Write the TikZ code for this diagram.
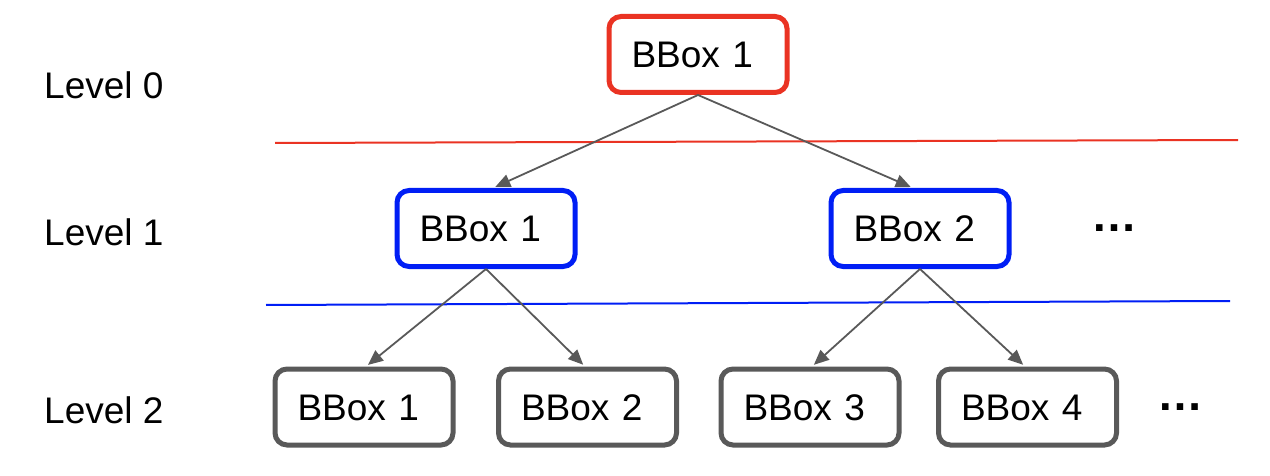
\documentclass[tikz,border=0pt]{standalone}
\usepackage{fontspec}
\setmainfont{Liberation Sans}
\usetikzlibrary{arrows.meta}
\definecolor{bred}{RGB}{234,51,35}
\definecolor{bblue}{RGB}{0,30,245}
\definecolor{bgray}{RGB}{89,89,89}
\tikzset{
  bbox/.style={draw, line width=5pt, rounded corners=12pt, fill=white,
    minimum width=178pt, minimum height=76pt, text width=133pt, align=left,
    inner xsep=22.5pt, inner ysep=0pt, text height=26.5pt, text depth=0pt,
    font=\fontsize{37}{41}\selectfont},
  redbox/.style={bbox, draw=bred},
  bluebox/.style={bbox, draw=bblue},
  graybox/.style={bbox, draw=bgray},
  conn/.style={draw=bgray, line width=1.8pt, shorten >=2.5pt,
    -{Triangle[length=15pt,width=13pt]}, fill=bgray},
  lvl/.style={anchor=base west, inner sep=0pt, font=\fontsize{37}{41}\selectfont},
  dots/.style={anchor=base west, inner sep=0pt, font=\fontsize{46}{50}\selectfont\bfseries},
  sep/.style={line width=2pt}
}
\begin{document}
\begin{tikzpicture}[x=1pt,y=-1pt]
\useasboundingbox (0,0) rectangle (1270,476);
% separator lines
\coordinate (r0) at (275,143);
\coordinate (r1) at (1238,140);
\coordinate (b0) at (266,305);
\coordinate (b1) at (1230,301);
\draw[sep, bred] (r0) -- (r1);
\draw[sep, bblue] (b0) -- (b1);
% level labels
\node[lvl] (l0) at (44,99) {Level 0};
\node[lvl] (l1) at (44,245) {Level 1};
\node[lvl] (l2) at (44,423) {Level 2};
% boxes
\node[redbox] (top) at (698,54.5) {BBox 1};
\node[bluebox] (a) at (486,228.5) {BBox 1};
\node[bluebox] (b) at (920,228.5) {BBox 2};
\node[graybox] (c1) at (364,407) {BBox 1};
\node[graybox] (c2) at (587.5,407) {BBox 2};
\node[graybox] (c3) at (810,407) {BBox 3};
\node[graybox] (c4) at (1027.5,407) {BBox 4};
% dots
\node[dots] (d1) at (1091,232) {…};
\node[dots] (d2) at (1157,410) {…};
% connectors
\draw[conn] (top.south) -- ([xshift=7pt]a.north);
\draw[conn] (top.south) -- ([xshift=-7pt]b.north);
\draw[conn] (a.south) -- ([xshift=2pt]c1.north);
\draw[conn] (a.south) -- ([xshift=-2.5pt]c2.north);
\draw[conn] (b.south) -- ([xshift=2pt]c3.north);
\draw[conn] (b.south) -- ([xshift=-2.5pt]c4.north);
\end{tikzpicture}
\end{document}
